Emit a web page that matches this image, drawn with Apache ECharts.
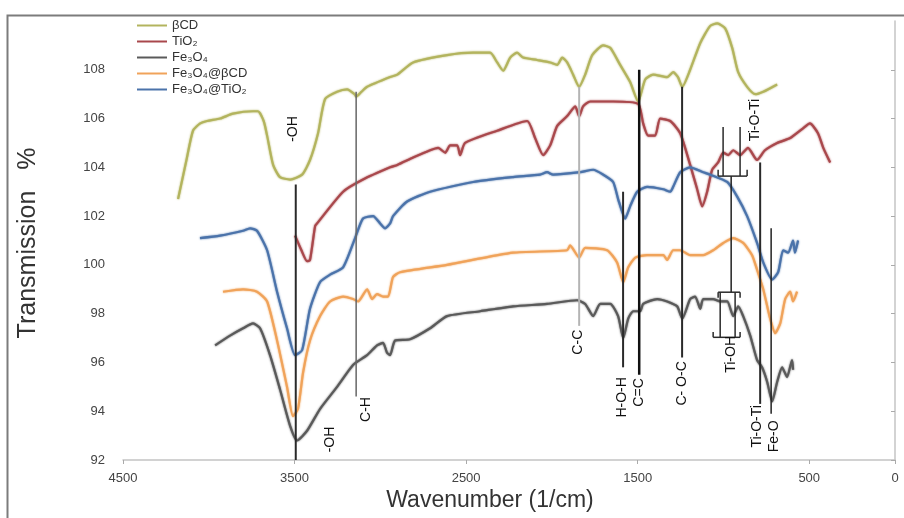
<!DOCTYPE html>
<html>
<head>
<meta charset="utf-8">
<script src="https://cdn.jsdelivr.net/npm/echarts@6/dist/echarts.min.js"></script>
<style>
  html, body { margin: 0; padding: 0; background: #fff; }
  #chart { width: 904px; height: 518px; }
</style>
</head>
<body>
<div id="chart"></div>
<script>
// spectra: [wavenumber (1/cm), transmission %]
const seriesNames = ['βCD', 'TiO₂', 'Fe₃O₄', 'Fe₃O₄@βCD', 'Fe₃O₄@TiO₂']

const betaCD = [
  [4179, 102.7], [4130, 104.3], [4092, 105.5], [4050, 105.8], [4010, 105.9], [3934, 106.0], [3859, 106.2],
  [3742, 106.3], [3713, 106.3], [3680, 105.9], [3660, 105.3], [3625, 104.1], [3585, 103.6], [3526, 103.5],
  [3456, 103.7], [3410, 104.3], [3363, 105.4], [3322, 106.8], [3252, 107.1], [3194, 107.2], [3150, 107.0],
  [3141, 106.9], [3110, 107.1], [3077, 107.3], [2943, 107.7], [2901, 107.8], [2809, 108.3], [2611, 108.6],
  [2459, 108.7], [2360, 108.7], [2319, 108.3], [2284, 107.96], [2243, 108.5], [2203, 108.7], [2168, 108.5],
  [2086, 108.4], [2010, 108.3], [1969, 108.2], [1940, 108.5], [1911, 108.3], [1876, 107.8], [1841, 107.3],
  [1806, 107.8], [1765, 108.6], [1701, 109.0], [1660, 108.9], [1602, 108.2], [1544, 107.5], [1497, 106.7],
  [1456, 107.6], [1410, 107.8], [1328, 107.7], [1293, 107.9], [1265, 107.7], [1240, 107.3], [1194, 108.0],
  [1135, 109.1], [1077, 109.8], [1036, 109.9], [990, 109.7], [949, 108.9], [914, 107.9], [862, 107.3],
  [815, 107.0], [768, 107.1], [687, 107.4]
]

const tio2 = [
  [3497, 101.2], [3460, 100.6], [3427, 100.15], [3410, 100.2], [3380, 101.6], [3369, 101.7], [3217, 103.0],
  [3101, 103.5], [2943, 104.0], [2901, 104.1], [2809, 104.4], [2710, 104.7], [2663, 104.8], [2622, 104.6],
  [2593, 104.9], [2552, 104.9], [2535, 104.5], [2506, 105.0], [2319, 105.5], [2144, 105.9], [2098, 105.2],
  [2051, 104.5], [2010, 104.9], [1969, 105.7], [1911, 106.1], [1864, 106.5], [1841, 106.1], [1818, 106.5],
  [1777, 106.7], [1643, 106.7], [1497, 106.6], [1468, 105.8], [1439, 105.3], [1398, 105.3], [1369, 106.0],
  [1310, 105.9], [1252, 105.4], [1194, 104.1], [1153, 103.1], [1124, 102.4], [1095, 103.0], [1066, 103.9],
  [1031, 104.2], [1001, 104.6], [972, 104.5], [943, 104.7], [903, 104.5], [857, 104.8], [804, 104.3],
  [758, 104.7], [687, 105.0], [611, 105.2], [536, 105.6], [496, 105.8], [449, 105.4], [418, 104.8], [378, 104.2]
]

const fe3o4 = [
  [3963, 96.7], [3876, 97.1], [3800, 97.4], [3742, 97.6], [3701, 97.4], [3643, 96.3], [3585, 94.9],
  [3526, 93.4], [3485, 92.8], [3427, 93.2], [3351, 94.1], [3252, 95.0], [3159, 95.9], [3077, 96.3],
  [3019, 96.7], [2984, 96.8], [2961, 96.4], [2943, 96.3], [2914, 96.9], [2827, 96.95], [2710, 97.4],
  [2611, 97.9], [2418, 98.1], [2226, 98.3], [2028, 98.4], [1853, 98.55], [1806, 98.4], [1759, 97.9],
  [1718, 98.4], [1660, 98.4], [1614, 97.9], [1584, 97.0], [1555, 97.8], [1526, 98.1], [1485, 98.1],
  [1468, 98.4], [1386, 98.6], [1328, 98.5], [1270, 98.3], [1240, 97.8], [1194, 98.6], [1165, 98.7],
  [1135, 98.2], [1118, 98.6], [1060, 98.6], [1019, 98.5], [978, 98.5], [943, 97.9], [914, 98.3],
  [885, 97.9], [844, 97.1], [804, 96.1], [775, 95.8], [745, 95.2], [716, 94.4], [687, 95.2],
  [658, 95.8], [629, 95.4], [600, 96.1], [594, 95.7]
]

const fe3o4BetaCD = [
  [3917, 98.9], [3800, 99.0], [3719, 98.9], [3660, 98.5], [3602, 96.9], [3544, 95.0], [3509, 93.8],
  [3480, 94.1], [3450, 95.6], [3410, 96.9], [3351, 97.9], [3293, 98.5], [3217, 98.7], [3159, 98.6],
  [3130, 98.5], [3077, 99.0], [3048, 98.6], [3019, 98.8], [2984, 98.7], [2955, 98.7], [2926, 99.5],
  [2885, 99.7], [2611, 100.0], [2226, 100.5], [1911, 100.6], [1894, 100.8], [1841, 100.3], [1806, 100.7],
  [1678, 100.6], [1620, 100.1], [1584, 99.3], [1555, 99.9], [1514, 100.3], [1445, 100.4], [1351, 100.4],
  [1328, 100.2], [1293, 100.6], [1252, 100.6], [1194, 100.4], [1118, 100.4], [1060, 100.6], [1001, 100.9],
  [943, 101.1], [885, 100.9], [833, 100.4], [804, 99.8], [768, 99.0], [728, 97.8], [698, 97.2],
  [669, 97.6], [640, 98.6], [611, 98.9], [594, 98.5], [571, 98.9]
]

const fe3o4TiO2 = [
  [4051, 101.1], [3934, 101.2], [3800, 101.4], [3759, 101.5], [3719, 101.4], [3660, 100.6], [3602, 98.9],
  [3544, 97.4], [3497, 96.3], [3456, 96.5], [3410, 98.2], [3351, 99.3], [3293, 99.6], [3217, 99.9],
  [3147, 101.1], [3101, 101.9], [3042, 102.0], [3001, 101.7], [2972, 101.5], [2943, 101.7], [2926, 102.0],
  [2844, 102.6], [2710, 103.0], [2459, 103.4], [2226, 103.6], [2069, 103.7], [2028, 103.8], [1993, 103.7],
  [1835, 103.8], [1759, 103.9], [1701, 103.7], [1643, 103.4], [1614, 102.7], [1573, 101.9], [1544, 102.4],
  [1503, 103.0], [1445, 103.2], [1351, 103.1], [1310, 103.0], [1293, 103.2], [1252, 103.8], [1194, 104.0],
  [1118, 103.8], [1077, 103.7], [978, 103.4], [920, 102.8], [862, 102.0], [804, 100.9], [768, 100.1],
  [716, 99.4], [681, 99.7], [652, 100.6], [623, 100.5], [594, 101.0], [583, 100.5], [565, 101.0]
]

const xTicks = [4500, 3500, 2500, 1500, 500, 0]
const yTicks = [92, 94, 96, 98, 100, 102, 104, 106, 108]

// peak marker lines: label, wavenumber, top, bottom
const peakLines = [
  ['-OH', 3493, 103.3, 92.0],
  ['C-H', 3141, 107.1, 94.6],
  ['C-C', 1841, 107.3, 97.5],
  ['H-O-H', 1585, 103.0, 95.8],
  ['C=C', 1491, 108.0, 95.5],
  ['C-O-C', 1241, 107.3, 96.2],
  ['Ti-OH', 955, 103.64, 98.88],
  ['Ti-O-Ti', 786, 104.2, 94.3],
  ['Fe-O', 722, 101.5, 93.9]
]

// peak label texts and where they sit (wavenumber, transmission)
const peakLabels = [
  ['-OH', 3509, 105.57],
  ['-OH', 3293, 92.84],
  ['C-H', 3083, 94.07],
  ['C-C', 1847, 96.83],
  ['H-O-H', 1590, 94.57],
  ['C=C', 1491, 94.77],
  ['C- O-C', 1241, 95.14],
  ['Ti-OH', 955, 96.33],
  ['Ti-O-Ti', 815, 105.94],
  ['Ti-O-Ti', 803, 93.38],
  ['Fe-O', 704, 92.97]
]

// Ti-OH range brackets: wn1, t1, wn2, t2
const bracketSegments = [
  [1031, 103.64, 862, 103.64], [1002, 105.65, 1002, 103.64], [903, 105.65, 903, 103.64],
  [1031, 103.64, 1031, 103.9], [862, 103.64, 862, 103.9],
  [1031, 98.88, 903, 98.88], [1060, 97.03, 903, 97.03],
  [1019, 98.88, 1019, 97.03], [932, 98.88, 932, 97.03],
  [1031, 98.88, 1031, 98.65], [903, 98.88, 903, 98.65],
  [1060, 97.03, 1060, 97.25], [903, 97.03, 903, 97.25]
]

const colors = ['#b3b45e', '#a9484c', '#5a5a5a', '#f0a35a', '#4b73aa']
const lineLook = {
  'C-H': { stroke: '#666', lineWidth: 1.5 },
  'C-C': { stroke: '#b4b4b4', lineWidth: 2 },
  'C=C': { stroke: '#111', lineWidth: 2.5 },
  'Ti-OH': { stroke: '#222', lineWidth: 1.5 },
  'Fe-O': { stroke: '#222', lineWidth: 1.5 },
}
const fontFamily = '"Liberation Sans", Arial, sans-serif'

const spectra = [betaCD, tio2, fe3o4, fe3o4BetaCD, fe3o4TiO2]

const chart = echarts.init(document.getElementById('chart'), null, { renderer: 'canvas' })

chart.setOption({
  backgroundColor: '#fff',
  animation: false,
  color: colors,
  grid: { left: 123, right: 9, top: 21, bottom: 58 },
  legend: {
    data: seriesNames,
    orient: 'vertical',
    left: 137,
    top: 18,
    padding: 0,
    itemGap: 1,
    itemWidth: 30,
    itemHeight: 2,
    icon: 'rect',
    textStyle: { fontSize: 13, color: '#333', fontFamily, lineHeight: 15 },
  },
  xAxis: {
    type: 'value',
    inverse: true,
    min: 0,
    max: 4500,
    axisLine: { lineStyle: { color: '#c4c4c4', width: 1.5 } },
    axisTick: { customValues: xTicks, length: 4, lineStyle: { color: '#aaa' } },
    axisLabel: {
      customValues: xTicks,
      formatter: (v) => String(v),
      color: '#444',
      fontSize: 13,
      fontFamily,
      margin: 12,
    },
    splitLine: { show: false },
  },
  yAxis: {
    type: 'value',
    min: 92,
    max: 110,
    axisLine: { show: true, lineStyle: { color: '#c4c4c4', width: 1.5 } },
    axisTick: { show: true, customValues: yTicks, length: 4, lineStyle: { color: '#aaa' } },
    axisLabel: { customValues: yTicks, color: '#444', fontSize: 13, fontFamily, margin: 18 },
    splitLine: { show: false },
  },
  graphic: [
    {
      type: 'rect',
      left: 5,
      top: 13,
      shape: { width: 930, height: 540 },
      style: { fill: null, stroke: '#7c7c7c', lineWidth: 2 },
    },
    {
      type: 'text',
      x: 490,
      y: 501,
      style: {
        text: 'Wavenumber (1/cm)',
        fontSize: 23,
        fontFamily,
        fill: '#333',
        align: 'center',
        verticalAlign: 'middle',
      },
    },
    {
      type: 'text',
      x: 28,
      y: 243,
      rotation: Math.PI / 2,
      style: {
        text: 'Transmission   %',
        fontSize: 25,
        fontFamily,
        fill: '#333',
        align: 'center',
        verticalAlign: 'middle',
      },
    },
  ],
  series: [
    ...spectra.map((data, i) => ({
      name: seriesNames[i],
      type: 'line',
      data,
      showSymbol: false,
      smooth: 0.2,
      z: 3,
      lineStyle: { width: 2.2, color: colors[i], shadowColor: colors[i], shadowBlur: 2 },
      emphasis: { disabled: true },
    })),
    {
      type: 'custom',
      silent: true,
      z: 4,
      data: peakLines.map((d) => [d[1], d[2], d[3]]),
      encode: { x: 0, y: [1, 2] },
      renderItem: (params, api) => {
        const d = peakLines[params.dataIndex]
        const p1 = api.coord([d[1], d[2]])
        const p2 = api.coord([d[1], d[3]])
        const look = lineLook[d[0]] || { stroke: '#2a2a2a', lineWidth: 2 }
        return {
          type: 'line',
          shape: { x1: p1[0], y1: p1[1], x2: p2[0], y2: p2[1] },
          style: { stroke: look.stroke, lineWidth: look.lineWidth },
        }
      },
    },
    {
      type: 'custom',
      silent: true,
      z: 4,
      data: bracketSegments,
      encode: { x: [0, 2], y: [1, 3] },
      renderItem: (params, api) => {
        const d = bracketSegments[params.dataIndex]
        const p1 = api.coord([d[0], d[1]])
        const p2 = api.coord([d[2], d[3]])
        return {
          type: 'line',
          shape: { x1: p1[0], y1: p1[1], x2: p2[0], y2: p2[1] },
          style: { stroke: '#2a2a2a', lineWidth: 1.5 },
        }
      },
    },
    {
      type: 'custom',
      silent: true,
      z: 5,
      data: peakLabels.map((d) => [d[1], d[2]]),
      encode: { x: 0, y: 1 },
      renderItem: (params, api) => {
        const d = peakLabels[params.dataIndex]
        const p = api.coord([d[1], d[2]])
        return {
          type: 'text',
          x: p[0],
          y: p[1],
          rotation: Math.PI / 2,
          style: {
            text: d[0],
            fontSize: 14,
            fontFamily,
            fill: '#111',
            align: 'center',
            verticalAlign: 'middle',
          },
        }
      },
    },
  ],
})
</script>
</body>
</html>
